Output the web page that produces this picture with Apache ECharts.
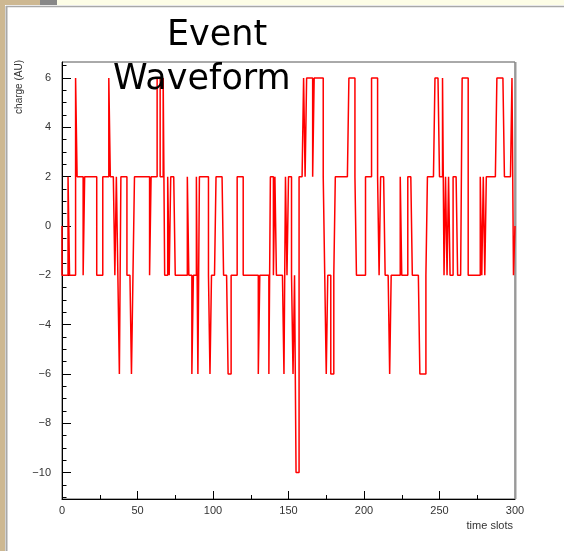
<!DOCTYPE html>
<html>
<head>
<meta charset="utf-8">
<script src="https://cdn.jsdelivr.net/npm/echarts@6/dist/echarts.min.js"></script>
<style>
  html, body { margin: 0; padding: 0; background: #ffffff; }
  #chart { width: 564px; height: 551px; }
</style>
</head>
<body>
<div id="chart"></div>
<script>
// Charge per time slot (one bin per slot, 300 slots)
const charge = [
  -2,-2,-2,-2,2,-2,-2,-2,-2,6,2,2,2,2,-2,2,2,2,2,2,
  2,2,2,-2,-2,-2,-2,2,2,2,2,6,2,2,2,-2,2,-2,-6,2,
  2,2,2,-2,-2,-2,-6,-2,2,2,2,2,2,2,2,2,2,2,-2,2,
  2,2,2,6,6,2,2,6,-2,-2,2,-2,2,2,2,-2,-2,-2,-2,-2,
  -2,-2,-2,2,-2,-2,-6,-2,-2,2,-6,2,2,2,2,2,2,-2,-6,-2,
  -2,-2,2,2,2,2,2,-2,-2,-2,-6,-6,-2,-2,-2,-2,2,2,2,2,
  -2,-2,-2,-2,-2,-2,-2,-2,-2,-2,-6,-2,-2,-2,-2,-2,-2,-6,2,2,
  -2,2,-2,-2,-2,-2,-2,-6,2,-2,2,2,-2,-6,-2,-10,-10,2,2,2,
  6,2,6,6,6,6,2,6,6,6,6,6,6,2,-2,-6,-2,-2,-6,-6,
  -2,2,2,2,2,2,2,2,2,2,6,6,6,6,2,-2,-2,-2,-2,-2,
  -2,2,2,2,2,6,6,6,6,2,-2,2,2,2,-2,-2,-2,-6,-2,-2,
  -2,-2,-2,-2,2,-2,-2,-2,-2,2,2,2,-2,-2,-2,-2,-2,-6,-6,-6,
  -6,-2,2,2,2,2,2,6,6,6,2,2,6,-2,2,-2,2,-2,-2,2,
  2,2,-2,-2,-2,6,6,6,6,-2,-2,-2,-2,-2,-2,-2,-2,2,-2,2,
  -2,2,2,2,2,2,2,2,6,6,6,6,6,2,2,2,2,2,6,-2
];

// Axis tick labels
const xTicks = [0, 50, 100, 150, 200, 250, 300];
const yTicks = [-10, -8, -6, -4, -2, 0, 2, 4, 6];
const yMinorTicks = [-11, -10.5, -10, -9.5, -9, -8.5, -8, -7.5, -7, -6.5, -6, -5.5, -5, -4.5, -4,
  -3.5, -3, -2.5, -2, -1.5, -1, -0.5, 0, 0.5, 1, 1.5, 2, 2.5, 3, 3.5, 4, 4.5, 5, 5.5, 6, 6.5];

const yMin = -11.07, yMax = 6.65;

// Histogram outline: rises from the zero baseline, one flat step per slot, back to zero
const outline = [[0, 0]];
charge.forEach((v, i) => { outline.push([i, v], [i + 1, v]); });
outline.push([charge.length, 0]);

const labelFont = 'Liberation Sans, Arial, Helvetica, sans-serif';
const titleFont = '"Comic Sans MS", "DejaVu Sans", sans-serif';
const minus = v => (v < 0 ? '\u2212' : '') + Math.abs(v);

const chart = echarts.init(document.getElementById('chart'), null, { renderer: 'canvas' });
chart.setOption({
  animation: false,
  backgroundColor: '#ffffff',
  title: [
    { text: 'Event', left: 162, top: 13,
      textStyle: { fontFamily: titleFont, fontSize: 35, fontWeight: 'normal', color: '#000' } },
    { text: 'Waveform', left: 108, top: 57,
      textStyle: { fontFamily: titleFont, fontSize: 35, fontWeight: 'normal', color: '#000' } }
  ],
  grid: { left: 62, right: 49, top: 62, bottom: 52, show: true, borderColor: '#555', borderWidth: 1, backgroundColor: 'transparent', z: 0 },
  xAxis: {
    type: 'value', min: 0, max: 300, interval: 50,
    axisLine: { show: true, onZero: false, lineStyle: { color: '#000', width: 1 } },
    axisTick: { show: true, inside: true, length: 8, lineStyle: { color: '#000' } },
    minorTick: { show: true, splitNumber: 2, length: 4, lineStyle: { color: '#000' } },
    axisLabel: { fontSize: 11, color: '#333', fontFamily: labelFont, margin: 6,
      customValues: xTicks },
    splitLine: { show: false }
  },
  yAxis: [
    {
      type: 'value', min: yMin, max: yMax,
      axisLine: { show: true, onZero: false, lineStyle: { color: '#000', width: 1 } },
      axisTick: { show: true, inside: true, length: 9, customValues: yTicks, lineStyle: { color: '#000' } },
      axisLabel: { fontSize: 11, color: '#333', fontFamily: labelFont, margin: 11,
        customValues: yTicks, formatter: minus },
      splitLine: { show: false }
    },
    {
      type: 'value', min: yMin, max: yMax, position: 'left', offset: 0,
      axisLine: { show: false, onZero: false },
      axisTick: { show: true, inside: true, length: 4.5, customValues: yMinorTicks, lineStyle: { color: '#000' } },
      axisLabel: { show: false },
      splitLine: { show: false }
    }
  ],
  graphic: [
    // window frame strips
    { type: 'rect', shape: { x: 0, y: 0, width: 5, height: 551 }, style: { fill: '#cdb892' }, silent: true },
    { type: 'rect', shape: { x: 57, y: 0, width: 507, height: 5 }, style: { fill: '#fdfde6' }, silent: true },
    { type: 'rect', shape: { x: 5, y: 0, width: 35, height: 5 }, style: { fill: '#cdb892' }, silent: true },
    { type: 'rect', shape: { x: 40, y: 0, width: 17, height: 5 }, style: { fill: '#888888' }, silent: true },
    { type: 'line', shape: { x1: 6.5, y1: 6, x2: 6.5, y2: 551 }, style: { stroke: '#a8a8a8', lineWidth: 2 }, silent: true },
    { type: 'line', shape: { x1: 6, y1: 6.5, x2: 564, y2: 6.5 }, style: { stroke: '#a8a8a8', lineWidth: 1.5 }, silent: true },
    { type: 'line', shape: { x1: 515.5, y1: 62, x2: 515.5, y2: 499 }, style: { stroke: '#999', lineWidth: 2 }, silent: true, z: 1 },
    // axis titles
    { type: 'text', x: 19, y: 60, rotation: Math.PI / 2,
      style: { text: 'charge (AU)', fontSize: 10, fontFamily: labelFont, fill: '#333', align: 'right', verticalAlign: 'middle' } },
    { type: 'text', x: 513, y: 526,
      style: { text: 'time slots', fontSize: 11, fontFamily: labelFont, fill: '#333', align: 'right', verticalAlign: 'middle' } }
  ],
  series: [{
    type: 'line',
    yAxisIndex: 0,
    data: outline,
    showSymbol: false,
    symbol: 'none',
    clip: false,
    lineStyle: { color: '#ff0000', width: 1.5 },
    z: 3
  }]
});
</script>
</body>
</html>
